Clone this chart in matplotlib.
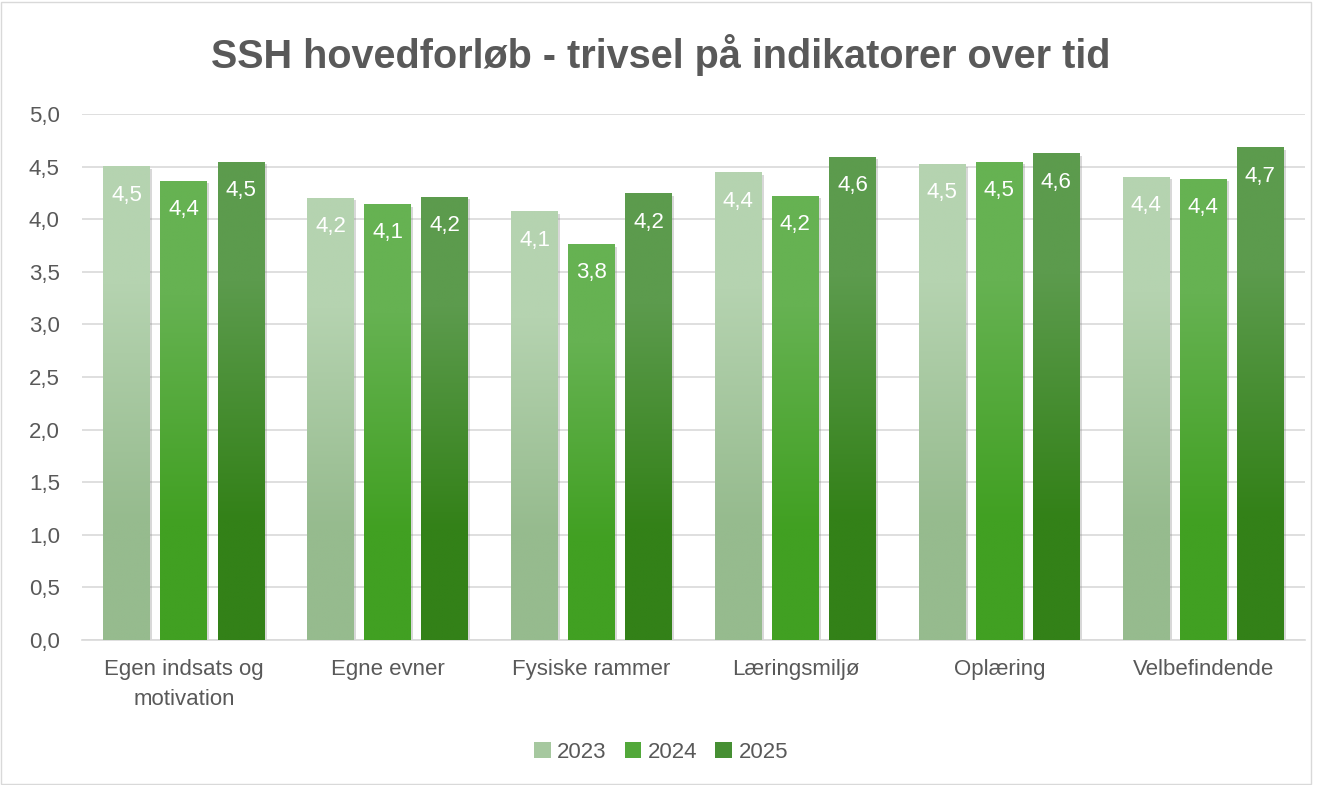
import numpy as np
import matplotlib
matplotlib.use('Agg')
import matplotlib.pyplot as plt
from matplotlib.patches import Patch, Rectangle
from matplotlib.colors import to_rgb
import matplotlib.patheffects as pe

categories = ['Egen indsats og\nmotivation', 'Egne evner', 'Fysiske rammer',
              'Læringsmiljø', 'Oplæring', 'Velbefindende']
years = ['2023', '2024', '2025']
v2023 = [4.50, 4.20, 4.07, 4.44, 4.52, 4.40]
v2024 = [4.36, 4.14, 3.76, 4.22, 4.54, 4.38]
v2025 = [4.54, 4.21, 4.24, 4.59, 4.62, 4.68]

# (top colour, bottom colour) for the vertical gradient
grads = [('#b5d3b0', '#96bb8e'), ('#66b252', '#41a022'), ('#5c9b4d', '#338118')]
legend_cols = ['#a6c89f', '#52a83a', '#468f33']

plt.rcParams['font.family'] = ['Liberation Sans', 'DejaVu Sans']
text_col = '#595959'

fig = plt.figure(figsize=(13.22, 7.85), dpi=100)
ax = fig.add_axes([82 / 1322, 1 - 640 / 785, (1305 - 82) / 1322, (640 - 114) / 785])

x = np.arange(len(categories))
width = 0.23
step = 0.28
series = [v2023, v2024, v2025]

for i, vals in enumerate(series):
    top, bot = grads[i]
    grad = np.array([to_rgb(top), to_rgb(bot)]).reshape(2, 1, 3)
    for xi, v in zip(x + (i - 1) * step, vals):
        x0 = xi - width / 2
        # shadow / base
        ax.bar(xi, v, width, color=bot, zorder=2,
               path_effects=[pe.SimplePatchShadow(offset=(1.5, -1.5), shadow_rgbFace='gray', alpha=0.3),
                             pe.Normal()])
        ax.imshow(grad, extent=(x0, x0 + width, 0, v), aspect='auto',
                  interpolation='bilinear', zorder=3)
        ax.text(xi, v - 0.27, f'{v:.1f}'.replace('.', ','), ha='center', va='center',
                color='white', fontsize=16, zorder=4)

ax.set_xlim(-0.5, len(categories) - 0.5)
ax.set_ylim(0, 5)
ax.set_yticks(np.arange(0, 5.01, 0.5))
ax.set_yticklabels([f'{t:.1f}'.replace('.', ',') for t in np.arange(0, 5.01, 0.5)])
ax.set_xticks(x)
ax.set_xticklabels(categories, fontsize=16, color=text_col, linespacing=1.55, va='top')
ax.tick_params(axis='y', labelsize=16, labelcolor=text_col, length=0, pad=16)
ax.tick_params(axis='x', length=0, pad=14)
ax.grid(axis='y', color='#d9d9d9', linewidth=1.2, zorder=0)
ax.set_axisbelow(True)
for s in ['top', 'right', 'left']:
    ax.spines[s].set_visible(False)
ax.spines['bottom'].set_color('#d9d9d9')
ax.spines['bottom'].set_linewidth(1.2)

fig.text(0.5, 1 - 55 / 785, 'SSH hovedforløb - trivsel på indikatorer over tid',
         ha='center', va='center', fontsize=28.5, fontweight='bold', color=text_col)

handles = [Patch(facecolor=c, edgecolor='none') for c in legend_cols]
fig.legend(handles, years, loc='center', bbox_to_anchor=(0.5, 1 - 752 / 785), ncol=3,
           frameon=False, fontsize=16, labelcolor=text_col, handlelength=0.75,
           handleheight=0.75, handletextpad=0.3, columnspacing=0.8)

fig.patches.append(Rectangle((0.5 / 1322, 1 / 785), 1310 / 1322, 782 / 785, transform=fig.transFigure,
                             fill=False, edgecolor='#d9d9d9', linewidth=1))

fig.savefig('out.png', dpi=100)
